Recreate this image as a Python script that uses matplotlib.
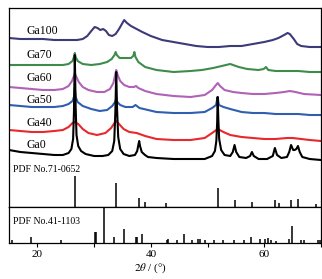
import matplotlib
matplotlib.use("Agg")
import matplotlib.pyplot as plt

plt.rcParams['font.family'] = ['Liberation Serif', 'DejaVu Serif']
plt.rcParams['mathtext.fontset'] = 'stix'

# ---------------- data ----------------
samples = ["Ga100", "Ga70", "Ga60", "Ga50", "Ga40", "Ga0"]

ga0_x = [15, 17, 19, 21, 23, 24.5, 25.5, 26.0, 26.3, 26.45, 26.6, 26.75, 26.9, 27.2, 27.7, 28.5, 30, 31.5,
         32.5, 33.2, 33.55, 33.75, 33.9, 34.05, 34.25, 34.6, 35.2, 36.2, 37.2, 37.6, 37.8, 37.95, 38.1, 38.4,
         38.97, 39.5, 41, 44, 47, 49.5, 50.8, 51.3, 51.55, 51.7, 51.78, 51.9, 52.05, 52.4, 53, 54.0, 54.45,
         54.76, 55.05, 55.6, 56.8, 57.5, 57.82, 58.15, 59, 60.5, 61.5, 61.87, 62.25, 63, 64.0, 64.4, 64.72,
         65.1, 65.35, 65.65, 65.94, 66.25, 66.7, 68, 70]
ga0_y = [57, 55, 54, 53, 52, 52, 54, 58, 68, 95, 152, 100, 72, 61, 56, 53, 51, 51,
         52, 56, 66, 95, 135, 98, 70, 58, 53, 51, 52, 56, 62, 66, 61, 55,
         52, 50, 49, 48, 48, 48, 51, 56, 66, 85, 110, 88, 68, 57, 52, 51, 55,
         62, 55, 50, 49, 51, 55, 51, 48, 48, 51, 59, 52, 49, 50, 55, 62,
         57, 57, 58, 61, 55, 50, 48, 47]

ga40_x = [15, 17, 19, 21, 23, 24.5, 25.5, 26.2, 26.6, 27.2, 28, 29, 30.5, 32, 33, 33.6, 33.9, 34.4, 35.2,
          36.2, 37.5, 39, 41, 44, 47, 49.5, 50.8, 51.8, 52.8, 54, 56, 58, 60, 62, 64, 65, 66.5, 68, 70]
ga40_y = [77, 76, 75, 75, 76, 77, 80, 84, 85, 83, 78, 74, 72, 74, 79, 84, 86, 83, 78,
          75, 74, 71, 68, 67, 67, 69, 74, 78, 75, 72, 70, 69, 68, 68, 69, 69, 68, 67, 66]

ga50_x = [15, 17, 19, 21, 23, 24.5, 25.5, 26.2, 26.45, 26.6, 26.75, 27.1, 28, 29.5, 31, 32.3, 33.2, 33.7,
          33.9, 34.1, 34.6, 35.5, 36.8, 37.3, 38, 39.5, 41, 44, 47, 49.5, 50.8, 51.5, 51.78, 52.0, 52.8,
          54, 56, 58, 60, 62, 64, 66, 68, 70]
ga50_y = [102, 101, 100, 100, 100, 101, 103, 106, 110, 119, 110, 105, 101, 98, 96, 97, 101, 105,
          108, 105, 102, 100, 100, 102, 99, 97, 95, 94, 94, 95, 99, 102, 110, 102, 100,
          98, 95, 94, 94, 93, 93, 93, 92, 92]

ga60_x = [15, 17, 19, 21, 23, 24.5, 25.5, 26.1, 26.45, 26.6, 26.8, 27.3, 28, 29, 30.5, 31.8, 32.8, 33.4,
          33.75, 33.9, 34.15, 34.6, 35.3, 36.2, 37.0, 37.4, 37.8, 39, 41, 44, 47, 49.5, 50.8, 51.5, 51.8,
          52.2, 53, 54.5, 56, 58, 60, 62, 63.5, 64.5, 65.5, 67, 70]
ga60_y = [120, 119, 118, 117, 117, 118, 121, 126, 131, 134, 131, 125, 120, 117, 115, 115, 118, 124,
          133, 137, 132, 126, 122, 120, 120, 121, 119, 116, 113, 111, 110, 112, 117, 122, 124,
          121, 117, 115, 114, 113, 113, 114, 115, 116, 115, 113, 112]

ga70_x = [15, 17, 19, 21, 23, 24.5, 25.5, 26.2, 26.45, 26.6, 26.75, 27.1, 28, 29.5, 31, 32.3, 33.1, 33.6,
          33.8, 34.0, 34.5, 35.5, 36.5, 36.9, 37.1, 37.3, 37.8, 39, 41, 44, 47, 49, 51, 52.5, 54, 55.5,
          57, 59, 59.9, 60.3, 60.7, 62, 64, 66, 68, 70]
ga70_y = [142, 142, 142, 142, 142, 142, 143, 146, 150, 154, 150, 146, 143, 142, 143, 145, 148, 152,
          155, 152, 149, 149, 149, 151, 155, 150, 145, 140, 137, 135, 136, 137, 139, 141, 143, 140,
          138, 137, 138, 140, 137, 136, 136, 136, 135, 135]

ga100_x = [15, 17, 19, 21, 23, 25, 27, 28, 28.8, 29.5, 30.1, 30.6, 31.1, 31.6, 32.1, 32.6, 33.2, 33.8,
           34.4, 34.9, 35.3, 35.8, 36.5, 37.5, 38.5, 40, 42, 45, 48, 50, 52, 54, 56, 58, 60, 61.5, 62.5,
           63.5, 64.1, 64.5, 65.2, 65.8, 66.5, 68, 70]
ga100_y = [169, 168, 168, 168, 167, 167, 167, 168, 171, 176, 180, 179, 177, 178, 176, 172, 171, 173,
           178, 183, 187, 184, 181, 178, 175, 171, 167, 164, 161, 160, 160, 161, 161, 163, 165, 167, 169,
           172, 174, 173, 168, 163, 161, 160, 160]

pdf71_pos = [26.61, 33.89, 37.95, 38.97, 42.6, 51.78, 54.76, 57.82, 61.87, 62.59, 64.72, 65.94, 69.2]
pdf71_int = [31, 24, 9, 5, 4, 19, 7, 5, 7, 4, 7, 8, 3]

pdf41_pos = [15.6, 18.9, 24.2, 30.1, 30.4, 31.75, 33.5, 35.25, 37.3, 37.5, 38.4, 42.9, 43.1, 44.7, 45.9,
             47.3, 48.3, 48.6, 49.6, 51.1, 52.7, 54.7, 56.4, 57.7, 59.3, 60.2, 60.6, 61.2, 62.1, 64.3,
             64.9, 66.5, 67.0, 69.5, 69.8]
pdf41_int = [3, 6, 3, 11, 11, 35, 6, 14, 6, 6, 9, 3, 4, 3, 9,
             3, 4, 4, 3, 3, 3, 3, 3, 6, 4, 4, 5, 3, 2, 4,
             17, 3, 3, 3, 3]

pdf_labels = ["PDF No.71-0652", "PDF No.41-1103"]

# ---------------- figure ----------------
W, H = 322, 279
fig = plt.figure(figsize=(W / 100, H / 100), dpi=100)

def fx(px):
    return px / W

def fy(py):
    return 1 - py / H

ax_top = fig.add_axes([fx(9), fy(207), fx(312), 199 / H])
ax_bot = fig.add_axes([fx(9), fy(243), fx(312), 36 / H], sharex=ax_top)

curves = [
    (ga100_x, ga100_y, "#3c3a78"),
    (ga70_x, ga70_y, "#3e8c4c"),
    (ga60_x, ga60_y, "#b062b6"),
    (ga50_x, ga50_y, "#2f5fae"),
    (ga40_x, ga40_y, "#e8282c"),
    (ga0_x, ga0_y, "#000000"),
]
for x, y, c in curves:
    ax_top.plot(x, y, color=c, lw=1.5, solid_joinstyle='round')

label_y = [176, 152, 129, 107, 84, 62]
for name, ly in zip(samples, label_y):
    ax_top.text(18.0, ly, name, fontsize=8.5, va='center', ha='left')

ax_top.vlines(pdf71_pos, 0, pdf71_int, color='black', lw=1.1)
ax_top.text(15.65, 38, pdf_labels[0], fontsize=7, va='center', ha='left')

ax_bot.vlines(pdf41_pos, 0, pdf41_int, color='black', lw=1.1)
ax_bot.text(15.65, 21, pdf_labels[1], fontsize=7, va='center', ha='left')

ax_top.set_xlim(15, 70)
ax_top.set_ylim(0, 199)
ax_bot.set_ylim(0, 36)

for ax in (ax_top, ax_bot):
    for s in ax.spines.values():
        s.set_linewidth(0.9)
    ax.set_yticks([])

ax_top.tick_params(axis='x', which='both', bottom=False, labelbottom=False)
ax_bot.set_xticks([20, 40, 60])
ax_bot.set_xticks([30, 50, 70], minor=True)
ax_bot.tick_params(axis='x', which='both', direction='out', length=3, width=0.8, pad=2, labelsize=8)

fig.text(fx(150), fy(268), r'$2\theta$ / (°)', ha='center', va='center', fontsize=8)

fig.savefig("out.png", dpi=100)
